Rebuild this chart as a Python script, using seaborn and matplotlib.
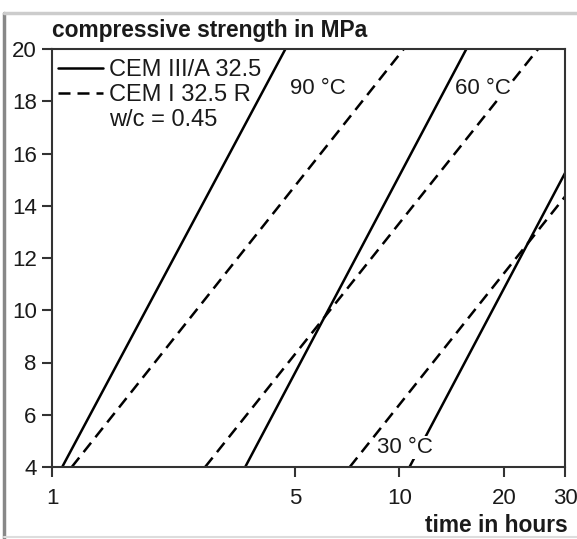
import matplotlib
matplotlib.use("Agg")
import matplotlib.pyplot as plt
import seaborn as sns
import pandas as pd
import numpy as np
from matplotlib.lines import Line2D
from matplotlib.ticker import FixedLocator, NullLocator, FixedFormatter

sns.set_theme(style="white")
plt.rcParams['font.family'] = ['Liberation Sans', 'DejaVu Sans']

# Data: each line given by its two end points (time in hours, strength in MPa)
temps = ["90 °C", "90 °C", "60 °C", "60 °C", "30 °C", "30 °C"]
cements = ["CEM III/A 32.5", "CEM I 32.5 R"] * 3
x_start = [1.07, 1.14, 3.6, 2.76, 10.7, 7.2]
x_end = [4.7, 10.3, 15.6, 25.1, 30.0, 30.0]
y_start = [4.0, 4.0, 4.0, 4.0, 4.0, 4.0]
y_end = [20.0, 20.0, 20.0, 20.0, 15.25, 14.35]

x_ticks = [1, 5, 10, 20, 30]
y_ticks = [4, 6, 8, 10, 12, 14, 16, 18, 20]

rows = []
for i in range(len(temps)):
    lid = f"{temps[i]}|{cements[i]}"
    rows.append(dict(line=lid, cement=cements[i], t=x_start[i], s=y_start[i]))
    rows.append(dict(line=lid, cement=cements[i], t=x_end[i], s=y_end[i]))
df = pd.DataFrame(rows)

LW = 1.8
DASH = (4.8, 2.8)

W, H = 577, 539
fig = plt.figure(figsize=(W / 100, H / 100), dpi=100)
ax = fig.add_axes([52 / W, 1 - 467 / H, (565 - 52) / W, (467 - 49) / H])

ax.set_xscale("log")
sns.lineplot(data=df, x="t", y="s", units="line", style="cement", estimator=None,
             color="black", linewidth=LW, ax=ax, legend=False,
             dashes={"CEM III/A 32.5": "", "CEM I 32.5 R": DASH})

ax.set_xlim(1, 30)
ax.set_ylim(4, 20)
ax.xaxis.set_major_locator(FixedLocator(x_ticks))
ax.xaxis.set_major_formatter(FixedFormatter([str(v) for v in x_ticks]))
ax.xaxis.set_minor_locator(NullLocator())
ax.yaxis.set_major_locator(FixedLocator(y_ticks))
ax.set_xlabel("")
ax.set_ylabel("")
for sp in ax.spines.values():
    sp.set_visible(True)
    sp.set_color("#333333")
    sp.set_linewidth(1.5)
ax.tick_params(axis="both", direction="out", length=7, width=1.5, color="#333333",
               labelsize=16, labelcolor="#1a1a1a", bottom=True, left=True, top=False, right=False)
ax.tick_params(axis="x", pad=8)
ax.tick_params(axis="y", pad=4)

fig.text(52 / W, 1 - 30 / H, "compressive strength in MPa", fontsize=16.4, fontweight="bold",
         ha="left", va="center", color="#1a1a1a")
fig.text(568 / W, 1 - 526 / H, "time in hours", fontsize=16.4, fontweight="bold",
         ha="right", va="center", color="#1a1a1a")

handles = [Line2D([], [], color="black", lw=LW),
           Line2D([], [], color="black", lw=LW, dashes=DASH),
           Line2D([], [], color="none", lw=0)]
leg = ax.legend(handles, ["CEM III/A 32.5", "CEM I 32.5 R", "w/c = 0.45"],
                loc="upper left", bbox_to_anchor=(0.012, 0.975), frameon=False,
                fontsize=17, handlelength=1.9, handletextpad=0.25, labelspacing=0.12,
                borderpad=0, borderaxespad=0)
for t in leg.get_texts():
    t.set_color("#1a1a1a")

lbl_kw = dict(fontsize=16, ha="center", va="center", color="#1a1a1a",
              bbox=dict(facecolor="white", edgecolor="none", pad=0.5))
ax.text(5.83, 18.5, "90 °C", **lbl_kw)
ax.text(17.4, 18.5, "60 °C", **lbl_kw)
ax.text(10.4, 4.75, "30 °C", **lbl_kw)

# image frame
fig.add_artist(Line2D([3.5 / W, 3.5 / W], [1 - 13 / H, 0], transform=fig.transFigure,
                      color="#888888", lw=2.5))
fig.add_artist(Line2D([3.5 / W, 1], [1 - 13 / H, 1 - 13 / H], transform=fig.transFigure,
                      color="#cccccc", lw=2.5))
fig.add_artist(Line2D([3.5 / W, 1], [1 - 537 / H, 1 - 537 / H], transform=fig.transFigure,
                      color="#dddddd", lw=1.5))

fig.savefig("out.png", dpi=100)
